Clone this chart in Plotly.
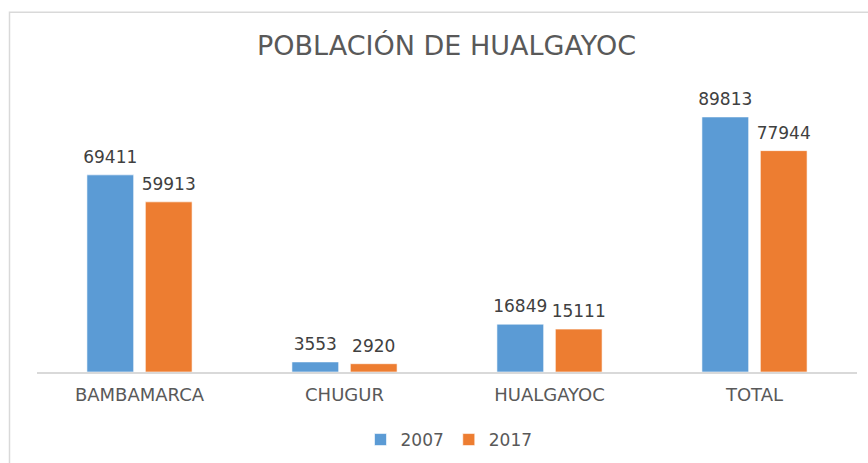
import plotly.graph_objects as go

categories = ["BAMBAMARCA", "CHUGUR", "HUALGAYOC", "TOTAL"]
values_2007 = [69411, 3553, 16849, 89813]
values_2017 = [59913, 2920, 15111, 77944]
series_names = ["2007", "2017"]

FONT = "DejaVu Sans"
LABEL_FONT = dict(color="#404040", size=17, family=FONT)
COLORS = ["#5B9BD5", "#ED7D31"]

fig = go.Figure()
for name, vals, col in zip(series_names, [values_2007, values_2017], COLORS):
    fig.add_trace(go.Bar(
        x=categories, y=vals, name=name, offsetgroup=name,
        marker=dict(color=col, line=dict(color="rgba(255,255,255,0.6)", width=1)),
    ))
for name, vals in zip(series_names, [values_2007, values_2017]):
    fig.add_trace(go.Scatter(
        x=categories, y=vals, mode="markers+text", offsetgroup=name,
        text=[str(v) for v in vals], textposition="top center",
        textfont=LABEL_FONT, marker=dict(size=11, color="rgba(0,0,0,0)"),
        showlegend=False, hoverinfo="skip", cliponaxis=False,
    ))

fig.update_layout(
    width=868, height=463,
    margin=dict(l=37, r=11, t=88, b=91),
    paper_bgcolor="white", plot_bgcolor="white",
    barmode="group", bargap=0.43, bargroupgap=0.2,
    scattermode="group", scattergap=0.43,
    font=dict(family=FONT, color="#595959"),
    title=dict(text="POBLACIÓN DE HUALGAYOC", x=446.5 / 868, xanchor="center",
               y=1 - 46 / 463, yanchor="middle",
               font=dict(size=27, color="#595959", family=FONT)),
    showlegend=True,
    legend=dict(orientation="h", xref="container", x=449 / 868, xanchor="center",
                yref="container", y=1 - 440 / 463, yanchor="middle",
                font=dict(size=17, color="#595959", family=FONT),
                itemwidth=30, traceorder="normal"),
)
fig.update_xaxes(showline=True, linecolor="#D9D9D9", linewidth=1.5,
                 showgrid=False, ticks="", tickfont=dict(size=18, color="#595959", family=FONT),
                 ticklabelstandoff=6)
fig.update_yaxes(range=[0, 100000], visible=False, showgrid=False, zeroline=False)

fig.add_shape(type="rect", xref="paper", yref="paper",
              x0=(9.5 - 37) / 820, x1=1.06, y0=-0.6, y1=(371.5 - 13) / 283,
              line=dict(color="#D9D9D9", width=1.5), fillcolor="rgba(0,0,0,0)", layer="below")

fig.write_html("out.html", config={"displayModeBar": False},
               post_script="document.body.style.margin='0';")
